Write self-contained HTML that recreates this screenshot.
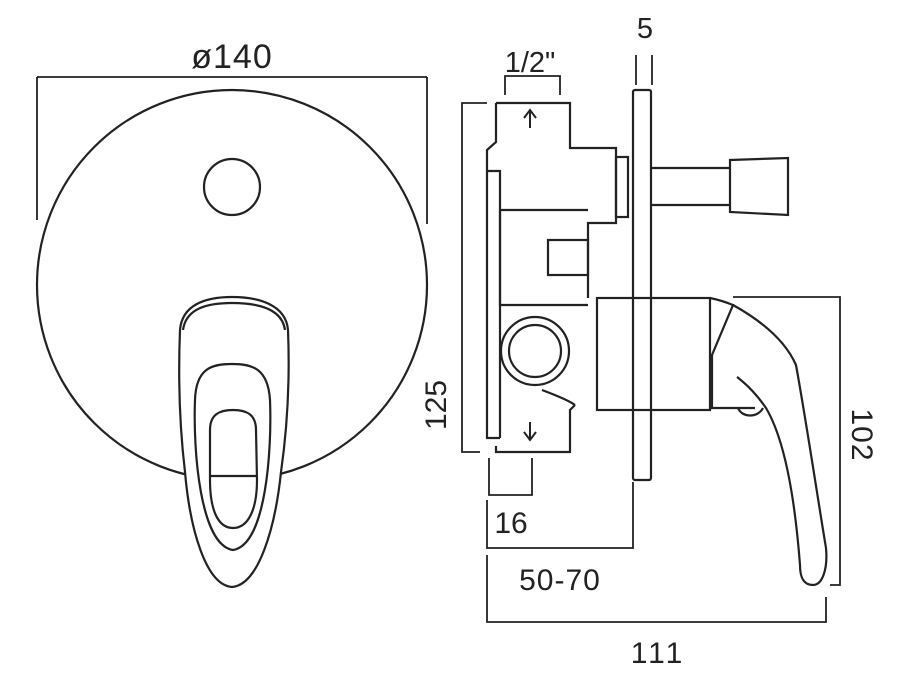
<!DOCTYPE html>
<html><head><style>body{margin:0;background:#fff}svg{display:block}text{font-family:"Liberation Sans",sans-serif;fill:#222;stroke:none}</style></head><body>
<svg width="901" height="687" viewBox="0 0 901 687" xmlns="http://www.w3.org/2000/svg" fill="none" stroke="#222" stroke-width="2.2">
<!-- Front view -->
<path d="M37 77 V220 M427 77 V224 M37 77 H427" stroke-width="1.8"/>
<text x="232" y="68" font-size="34" text-anchor="middle" letter-spacing="1">ø140</text>
<circle cx="232" cy="285" r="195"/>
<circle cx="232" cy="187" r="28"/>
<path fill="#fff" d="M180 330 C182 305 205 297 232 297 C259 297 286 305 288 330 C290 380 287 430 281 472 C275 530 258 585 232 587 C206 585 190 530 185 472 C180 430 178 380 180 330Z"/>
<path d="M183 330 C186 308 208 303 232 303 C256 303 282 308 285 330"/>
<path d="M195 400 C196 368 212 364 232 364 C252 364 268 368 270 400 C272 450 266 545 233 550 C200 545 193 450 195 400Z"/>
<path d="M210 430 C210 414 220 410 233 410 C246 410 256 414 256 430 L257 480 C257 510 248 528 233 528 C218 528 210 510 210 480Z"/>
<path d="M210 476 H257"/>
<!-- Side view dimensions -->
<text x="530" y="72" font-size="29" text-anchor="middle">1/2"</text>
<path d="M505 95 V76 H560 V95" stroke-width="1.8"/>
<text x="645" y="38" font-size="29" text-anchor="middle">5</text>
<path d="M636 55 V85 M652 55 V85" stroke-width="1.8"/>
<path d="M487 103 H462 V452 H480" stroke-width="1.8"/>
<text transform="translate(446,405) rotate(-90)" font-size="30" text-anchor="middle">125</text>
<path d="M489 458 V495 H532 V458" stroke-width="1.8"/>
<text x="511" y="533" font-size="30" text-anchor="middle">16</text>
<path d="M487 500 V548 H633 V482" stroke-width="1.8"/>
<text x="560" y="590" font-size="30" text-anchor="middle" letter-spacing="1">50-70</text>
<path d="M487 555 V622 H826 V597" stroke-width="1.8"/>
<text x="658" y="663" font-size="30" text-anchor="middle" letter-spacing="3">111</text>
<path d="M733 297 H840 V585 H830" stroke-width="1.8"/>
<text transform="translate(852,435) rotate(90)" font-size="30" text-anchor="middle" letter-spacing="1">102</text>
<!-- Body -->
<path d="M496 103 H570 V148 H616 V223 H588 V298 M496 103 V142 L487 150 V438 H500 M496 446 V452 H570 V410 L575 405"/>
<path d="M487 171 H500 V438"/>
<path d="M500 210 H588 M500 210 V305 H588"/>
<rect x="548" y="240" width="40" height="35"/>
<circle cx="535" cy="351" r="34"/><circle cx="535" cy="351" r="26"/>
<path d="M542 390 C555 395 568 400 575 405"/>
<path d="M530 110 V128 M524 118 L530 110 L536 118 M530 440 V422 M524 432 L530 440 L536 432" stroke-width="2"/>
<rect x="616" y="157" width="12" height="60"/>
<rect x="633" y="90" width="18" height="390" rx="2"/>
<path d="M651 168 H730 M651 205 H730"/>
<path d="M730 160 L788 158 V215 L730 212Z"/>
<rect x="597" y="298" width="113" height="112"/>
<!-- Handle -->
<path d="M710 298 C720 300 728 303 733 305 L712 355 V408 H755"/>
<path d="M733 305 C760 320 785 340 796 365 C806 420 818 500 826 548 C828 570 822 585 813 585 C802 585 800 575 800 565 C795 500 785 440 766 408 C755 392 745 383 737 377"/>
<path d="M738 408 C742 418 758 418 763 408"/>
</svg>
</body></html>
